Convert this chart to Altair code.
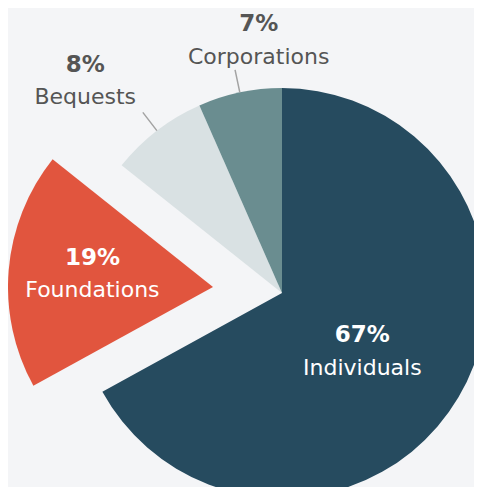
import math
import altair as alt
import pandas as pd

# Data
categories = ["Individuals", "Foundations", "Bequests", "Corporations"]
shares = [67.0, 18.7, 7.7, 6.6]          # angular share of each slice
pct_labels = ["67%", "19%", "8%", "7%"]  # printed labels
colors = ["#264b5f", "#e1553e", "#d9e1e3", "#6a8d90"]

df = pd.DataFrame({"category": categories, "value": shares, "pct": pct_labels})
df["end"] = df["value"].cumsum()
df["start"] = df["end"] - df["value"]
df["mid"] = (df["start"] + df["end"]) / 2

BG = "#f4f5f7"
FONT = "DejaVu Sans"
R = 205
CX, CY = 274, 285          # pie centre (svg px)
EX, EY = 205, 279          # exploded Foundations centre

theta_scale = alt.Scale(domain=[0, 100], range=[0, 2 * math.pi])
color_scale = alt.Scale(domain=categories, range=colors)

base = alt.Chart(df)

main = base.transform_filter(alt.datum.category != "Foundations").mark_arc(clip=True).encode(
    theta=alt.Theta("start:Q", scale=theta_scale, stack=False),
    theta2="end:Q",
    radius=alt.value(R),
    x=alt.value(CX), y=alt.value(CY),
    color=alt.Color("category:N", scale=color_scale, legend=None),
)

exploded = base.transform_filter(alt.datum.category == "Foundations").mark_arc(clip=True).encode(
    theta=alt.Theta("start:Q", scale=theta_scale, stack=False),
    theta2="end:Q",
    radius=alt.value(R),
    x=alt.value(EX), y=alt.value(EY),
    color=alt.Color("category:N", scale=color_scale, legend=None),
)

leaders = base.transform_filter(
    (alt.datum.category == "Bequests") | (alt.datum.category == "Corporations")
).mark_arc(stroke="#a3a3a3", strokeWidth=1.5, fillOpacity=0).encode(
    theta=alt.Theta("mid:Q", scale=theta_scale, stack=False),
    theta2="mid:Q",
    radius=alt.value(R),
    radius2=alt.value(228),
    x=alt.value(CX), y=alt.value(CY),
)


def label(cat, field, origin, r, dx, dy, size, weight, color):
    return base.transform_filter(alt.datum.category == cat).mark_text(
        dx=dx, dy=dy, fontSize=size, fontWeight=weight, font=FONT,
        color=color, align="center", baseline="middle",
    ).encode(
        theta=alt.Theta("mid:Q", scale=theta_scale, stack=False),
        radius=alt.value(r),
        x=alt.value(origin[0]), y=alt.value(origin[1]),
        text=f"{field}:N",
    )


PCT_SIZE = 23
NAME_SIZE = 22
GREY = "#555555"
layers = [
    main, exploded, leaders,
    label("Individuals", "pct", (CX, CY), 98, -4, -8, PCT_SIZE, "bold", "white"),
    label("Individuals", "category", (CX, CY), 98, -4, 25, NAME_SIZE, "normal", "white"),
    label("Foundations", "pct", (EX, EY), 121, 0, -19, PCT_SIZE, "bold", "white"),
    label("Foundations", "category", (EX, EY), 121, 0, 13, NAME_SIZE, "normal", "white"),
    label("Bequests", "pct", (CX, CY), 288, -21, 0, PCT_SIZE, "bold", GREY),
    label("Bequests", "category", (CX, CY), 288, -21, 32, NAME_SIZE, "normal", GREY),
    label("Corporations", "pct", (CX, CY), 254, 29, -20, PCT_SIZE, "bold", GREY),
    label("Corporations", "category", (CX, CY), 254, 29, 13, NAME_SIZE, "normal", GREY),
]

chart = alt.layer(*layers).properties(
    width=466, height=479, padding=0, background=BG,
    autosize=alt.AutoSizeParams(type="none"),
).configure_view(strokeWidth=0)

chart.save("out.html", embed_options={"renderer": "svg", "actions": False})
